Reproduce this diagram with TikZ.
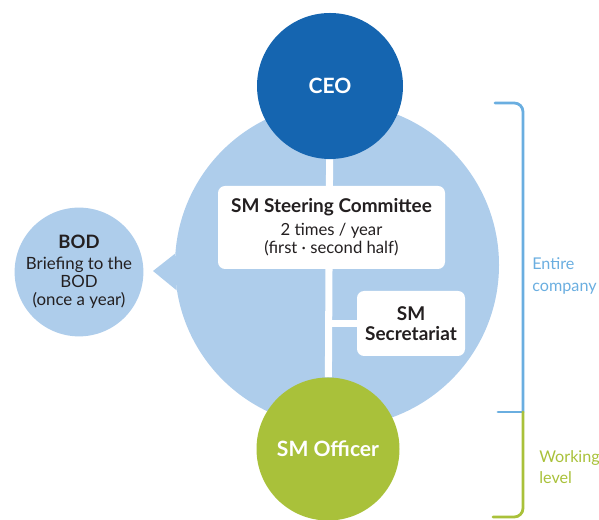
\documentclass[tikz,border=0pt]{standalone}
\usepackage{fontspec}
\setmainfont{Lato}
\definecolor{ringblue}{HTML}{AECDEB}
\definecolor{ceoblue}{HTML}{1565B0}
\definecolor{leafgreen}{HTML}{A9C13A}
\definecolor{linkblue}{HTML}{6AAEE0}
\definecolor{inktext}{HTML}{231F20}

\begin{document}
\begin{tikzpicture}[line cap=round,line join=round,
  bubble/.style={circle,inner sep=0pt,text=white,font=\fontsize{12}{14}\selectfont\bfseries},
  card/.style={fill=white,rounded corners=4pt,inner sep=0pt,align=center,text=inktext,font=\fontsize{9.5}{10.6}\selectfont},
  spine/.style={white,line width=4pt,line cap=butt},
  brace/.style={line width=1.6pt,rounded corners=5pt}]
  \useasboundingbox (0,0) rectangle (11.98,10.40);
  \node[circle,fill=ringblue,minimum size=6.48cm] (ring) at (6.74,5.10) {};
  \coordinate (tip) at (3.06,4.98);
  \fill[ringblue] (ring.176) -- (tip) -- (ring.189) -- cycle;
  \node[circle,fill=ringblue,minimum size=2.40cm,align=center,inner sep=0pt,text=inktext,
    font=\fontsize{9.6}{10.4}\selectfont] (bod) at (1.58,4.96)
    {{\fontsize{10.5}{12}\selectfont\bfseries BOD}\\[1pt]Briefing to the\\BOD\\(once a year)};
  \node[bubble,fill=ceoblue,minimum size=2.92cm] (ceo) at (6.60,8.68) {CEO};
  \node[bubble,fill=leafgreen,minimum size=2.86cm] (officer) at (6.56,1.42) {SM Officer};
  \draw[spine] (ceo) -- (officer);
  \node[card,minimum width=4.54cm,minimum height=1.66cm] (steer) at (6.63,5.85)
    {{\fontsize{10.8}{12}\selectfont\bfseries SM Steering Committee}\\[2pt]2 times / year\\(first · second half)};
  \node[card,minimum width=2.16cm,minimum height=1.30cm,font=\fontsize{10.8}{11.6}\selectfont\bfseries] (secr) at (8.22,3.93)
    {SM\\Secretariat};
  \draw[spine] (secr.west) -- (secr.west -| ceo.south);
  \coordinate (BT) at (10.46,8.34);
  \coordinate (BM) at (10.46,2.16);
  \coordinate (BB) at (10.46,0.06);
  \draw[brace,linkblue] (9.90,8.34) -- (BT) -- (BM);
  \draw[brace,linkblue] (9.96,2.16) -- (BM);
  \draw[brace,leafgreen] (BM) -- (BB) -- (9.86,0.06);
  \node[anchor=west,align=left,inner sep=0pt,text=linkblue,font=\fontsize{9.2}{12}\selectfont] (entire) at (10.64,4.88) {Entire\\company};
  \node[anchor=west,align=left,inner sep=0pt,text=leafgreen,font=\fontsize{9.2}{12}\selectfont] (working) at (10.78,1.06) {Working\\level};
\end{tikzpicture}
\end{document}
